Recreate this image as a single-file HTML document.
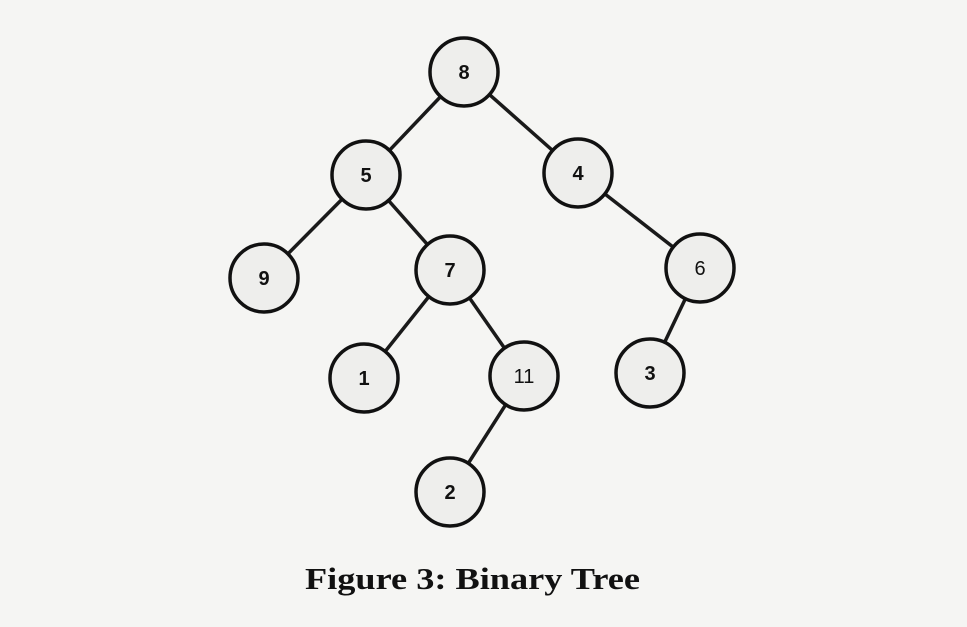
<!DOCTYPE html>
<html><head><style>
html,body{margin:0;padding:0;background:#f5f5f3;}
svg{display:block}
</style></head><body>
<svg width="967" height="627" viewBox="0 0 967 627" xmlns="http://www.w3.org/2000/svg">
<rect width="967" height="627" fill="#f5f5f3"/>
<g stroke="#1a1a1a" stroke-width="3.5" fill="none">
<line x1="464" y1="72" x2="366" y2="175"/>
<line x1="464" y1="72" x2="578" y2="173"/>
<line x1="366" y1="175" x2="264" y2="278"/>
<line x1="366" y1="175" x2="450" y2="270"/>
<line x1="578" y1="173" x2="700" y2="268"/>
<line x1="450" y1="270" x2="364" y2="378"/>
<line x1="450" y1="270" x2="524" y2="376"/>
<line x1="700" y1="268" x2="650" y2="373"/>
<line x1="524" y1="376" x2="450" y2="492"/>
</g>
<g stroke="#111" stroke-width="3.5" fill="#eeeeec">
<circle cx="464" cy="72" r="34"/>
<circle cx="366" cy="175" r="34"/>
<circle cx="578" cy="173" r="34"/>
<circle cx="264" cy="278" r="34"/>
<circle cx="450" cy="270" r="34"/>
<circle cx="700" cy="268" r="34"/>
<circle cx="364" cy="378" r="34"/>
<circle cx="524" cy="376" r="34"/>
<circle cx="650" cy="373" r="34"/>
<circle cx="450" cy="492" r="34"/>
</g>
<g font-family="Liberation Sans, sans-serif" font-size="20" font-weight="bold" fill="#111" text-anchor="middle">
<text x="464" y="79">8</text>
<text x="366" y="182">5</text>
<text x="578" y="180">4</text>
<text x="264" y="285">9</text>
<text x="450" y="277">7</text>
<text x="700" y="275" font-weight="normal">6</text>
<text x="364" y="385">1</text>
<text x="524" y="383" font-weight="normal">11</text>
<text x="650" y="380">3</text>
<text x="450" y="499">2</text>
</g>
<text x="305" y="589" textLength="335" lengthAdjust="spacingAndGlyphs" font-family="Liberation Serif, serif" font-size="31" font-weight="bold" fill="#111">Figure 3: Binary Tree</text>
</svg>
</body></html>
